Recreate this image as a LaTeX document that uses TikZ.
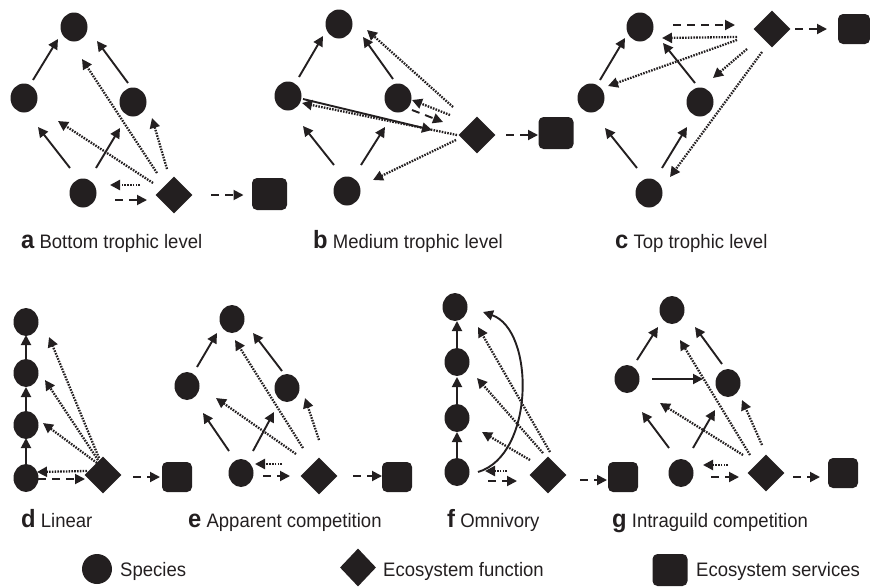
\documentclass[tikz,border=0pt]{standalone}
\usepackage{fontspec}
\setmainfont{Liberation Sans}[FakeStretch=0.95]
\usetikzlibrary{shapes.geometric,arrows.meta}
\definecolor{ink}{HTML}{231F20}
% connector between two nodes, each end given as an offset from the node centre
\newcommand\link[5][]{\draw[#1] ([shift={(#3)}]#2.center) -- ([shift={(#5)}]#4.center);}
% bold panel letter
\newcommand\pnl[1]{{\fontsize{25}{30}\selectfont\bfseries #1}}
\begin{document}
\begin{tikzpicture}[x=1pt,y=-1pt,
  sp/.style={ellipse, fill=ink, inner sep=0pt, minimum width=27pt, minimum height=29pt},
  spb/.style={sp, minimum width=25pt, minimum height=28pt},
  fn/.style={diamond, fill=ink, inner sep=0pt, minimum width=37pt, minimum height=37pt},
  sv/.style={rectangle, rounded corners=5pt, fill=ink, inner sep=0pt, minimum width=35pt, minimum height=32pt},
  svb/.style={sv, minimum width=30pt, minimum height=30pt},
  sol/.style={draw=ink, line width=1.9pt, -{Triangle[length=10pt,width=10pt]}},
  dot/.style={sol, line width=2.3pt, dash pattern=on 1.6pt off 1.2pt},
  dsh/.style={sol, dash pattern=on 8pt off 6pt},
  lab/.style={anchor=base west, inner sep=0pt, text=ink, font=\fontsize{19.5}{24}\selectfont},
]
\useasboundingbox (0,0) rectangle (870,587);

% ---------- a: bottom trophic level ----------
\node[sp] (Ta) at (74,27) {};
\node[sp] (La) at (24,98) {};
\node[sp] (Ra) at (133,102) {};
\node[sp] (Ba) at (83,193) {};
\node[fn] (Da) at (174,195) {};
\node[sv] (Sa) at (269.5,194) {};
\link[sol]{Ba}{-13,-25}{La}{14,29}
\link[sol]{Ba}{13,-25}{Ra}{-13,26}
\link[sol]{La}{9,-18}{Ta}{-16,12}
\link[sol]{Ra}{-5,-19}{Ta}{23,14}
\link[dot]{Da}{-17,-22}{Ta}{8,32}
\link[dot]{Da}{-21,-12}{La}{34,23}
\link[dot]{Da}{-7,-26}{Ra}{19,16}
\link[dot]{Da}{-34,-10}{Ba}{27,-8}
\link[dsh]{Ba}{32,7}{Da}{-27,5}
\link[dsh]{Da}{37,0}{Sa}{-26,1}
\node[lab] (labA) at (21,248) {\pnl{a} Bottom trophic level};

% ---------- b: medium trophic level ----------
\node[sp] (Tb) at (339,24) {};
\node[sp] (Lb) at (288,96) {};
\node[sp] (Rb) at (398,98) {};
\node[sp] (Bb) at (347,191) {};
\node[fn] (Db) at (477,135) {};
\node[sv] (Sb) at (556,133) {};
\link[sol]{Bb}{-13,-26}{Lb}{15,30}
\link[sol]{Bb}{14,-26}{Rb}{-13,29}
\link[sol]{Lb}{11,-19}{Tb}{-16,12}
\link[sol]{Rb}{-5,-19}{Tb}{24,13}
\link[sol]{Lb}{15,3}{Db}{-45,-5}
\link[dot]{Db}{-20,0}{Lb}{14,7}
\link[dot]{Db}{-24,-28}{Tb}{28,6}
\link[dot]{Db}{-27,-20}{Rb}{14,2}
\link[dsh]{Rb}{14,12}{Db}{-34,-13}
\link[dot]{Db}{-21,5}{Bb}{26,-11}
\link[dsh]{Db}{29,0}{Sb}{-18,2}
\node[lab] (labB) at (313,248) {\pnl{b} Medium trophic level};

% ---------- c: top trophic level ----------
\node[sp] (Tc) at (640,27) {};
\node[sp] (Lc) at (591,98) {};
\node[sp] (Rc) at (700,102) {};
\node[sp] (Bc) at (649,193) {};
\node[fn] (Dc) at (772,29) {};
\node[sv, minimum width=32pt, minimum height=30pt] (Sc) at (854,29) {};
\link[sol]{Bc}{-12,-25}{Lc}{14,30}
\link[sol]{Bc}{13,-25}{Rc}{-13,25}
\link[sol]{Lc}{9,-18}{Tc}{-15,11}
\link[sol]{Rc}{-5,-19}{Tc}{23,16}
\link[dsh]{Tc}{33,-2}{Dc}{-37,-4}
\link[dot]{Dc}{-35,8}{Tc}{22,11}
\link[dot]{Dc}{-35,11}{Lc}{17,-12}
\link[dot]{Dc}{-25,20}{Rc}{13,-24}
\link[dot]{Dc}{-10,23}{Bc}{21,-16}
\link[dsh]{Dc}{23,0}{Sc}{-27,0}
\node[lab] (labC) at (615,248) {\pnl{c} Top trophic level};

% ---------- d: linear ----------
\node[spb] (D4) at (26,322) {};
\node[spb] (D3) at (26,373) {};
\node[spb] (D2) at (26,425) {};
\node[spb] (D1) at (26,478) {};
\node[fn] (Dd) at (103,475) {};
\node[svb] (Sd) at (177,477) {};
\link[sol]{D1}{0,-14}{D2}{0,13}
\link[sol]{D2}{0,-14}{D3}{0,14}
\link[sol]{D3}{0,-14}{D4}{0,13}
\link[dot]{Dd}{-4,-17}{D4}{23,15}
\link[dot]{Dd}{-5,-15}{D3}{19,7}
\link[dot]{Dd}{-6,-12}{D2}{17,-2}
\link[dot]{Dd}{-16,-4}{D1}{11,-6}
\link[dsh]{D1}{12,1}{Dd}{-18,4}
\link[dsh]{Dd}{30,2}{Sd}{-17,0}
\node[lab] (labD) at (21,527) {\pnl{d} Linear};

% ---------- e: apparent competition ----------
\node[spb] (Te) at (232,319) {};
\node[spb] (Le) at (187,386) {};
\node[spb] (Re) at (287,388) {};
\node[spb] (Be) at (241,473) {};
\node[fn] (De) at (319,476) {};
\node[svb] (Se) at (397,477) {};
\link[sol]{Le}{10,-19}{Te}{-15,14}
\link[sol]{Re}{-5,-17}{Te}{21,14}
\link[sol]{Be}{-12,-22}{Le}{16,27}
\link[sol]{Be}{12,-22}{Re}{-13,24}
\link[dot]{De}{-16,-28}{Te}{3,21}
\link[dot]{De}{-23,-22}{Le}{29,12}
\link[dot]{De}{0,-36}{Re}{18,10}
\link[dot]{De}{-37,-12}{Be}{14,-9}
\link[dsh]{Be}{22,3}{De}{-29,0}
\link[dsh]{De}{34,0}{Se}{-15,-1}
\node[lab] (labE) at (188,527) {\pnl{e} Apparent competition};

% ---------- f: omnivory ----------
\node[spb] (F4) at (455,307) {};
\node[spb] (F3) at (457,362) {};
\node[spb] (F2) at (457,418) {};
\node[spb] (F1) at (457,472) {};
\node[fn] (Df) at (548,475) {};
\node[svb] (Sf) at (623,477) {};
\link[sol]{F1}{0,-13}{F2}{0,14}
\link[sol]{F2}{0,-13}{F3}{0,15}
\link[sol]{F3}{0,-13}{F4}{2,14}
\draw[sol] ([shift={(21,0)}]F1.center) .. controls +(57,-17) and +(52,18) .. ([shift={(28,5)}]F4.center);
\link[dot]{Df}{2,-23}{F4}{23,20}
\link[dot]{Df}{-5,-22}{F3}{20,16}
\link[dot]{Df}{-18,-15}{F2}{25,14}
\link[dot]{Df}{-41,-4}{F1}{28,-1}
\link[dsh]{F1}{31,9}{Df}{-31,6}
\link[dsh]{Df}{32,5}{Sf}{-16,3}
\node[lab] (labF) at (447,527) {\pnl{f} Omnivory};

% ---------- g: intraguild competition ----------
\node[spb] (Tg) at (672,310) {};
\node[spb] (Lg) at (627,379) {};
\node[spb] (Rg) at (728,383) {};
\node[spb] (Bg) at (681,473) {};
\node[fn] (Dg) at (766,473) {};
\node[svb] (Sg) at (843,473) {};
\link[sol]{Lg}{10,-19}{Tg}{-14,17}
\link[sol]{Rg}{-6,-19}{Tg}{23,17}
\link[sol]{Lg}{25,0}{Rg}{-25,-4}
\link[sol]{Bg}{-12,-25}{Lg}{15,33}
\link[sol]{Bg}{12,-25}{Rg}{-13,27}
\link[dot]{Dg}{-16,-18}{Tg}{8,30}
\link[dot]{Dg}{-23,-18}{Lg}{33,24}
\link[dot]{Dg}{-4,-28}{Rg}{14,17}
\link[dot]{Dg}{-38,-8}{Bg}{22,-8}
\link[dsh]{Bg}{30,4}{Dg}{-27,4}
\link[dsh]{Dg}{27,4}{Sg}{-23,4}
\node[lab] (labG) at (612,527) {\pnl{g} Intraguild competition};

% ---------- legend ----------
\node[sp, minimum width=30pt, minimum height=30pt] (keySp) at (97,569) {};
\node[lab] (keySpT) at (120,576) {Species};
\node[fn, minimum width=36pt, minimum height=38pt] (keyFn) at (358,567.5) {};
\node[lab] (keyFnT) at (383,576) {Ecosystem function};
\node[sv] (keySv) at (670,570) {};
\node[lab] (keySvT) at (696,576) {Ecosystem services};
\end{tikzpicture}
\end{document}
